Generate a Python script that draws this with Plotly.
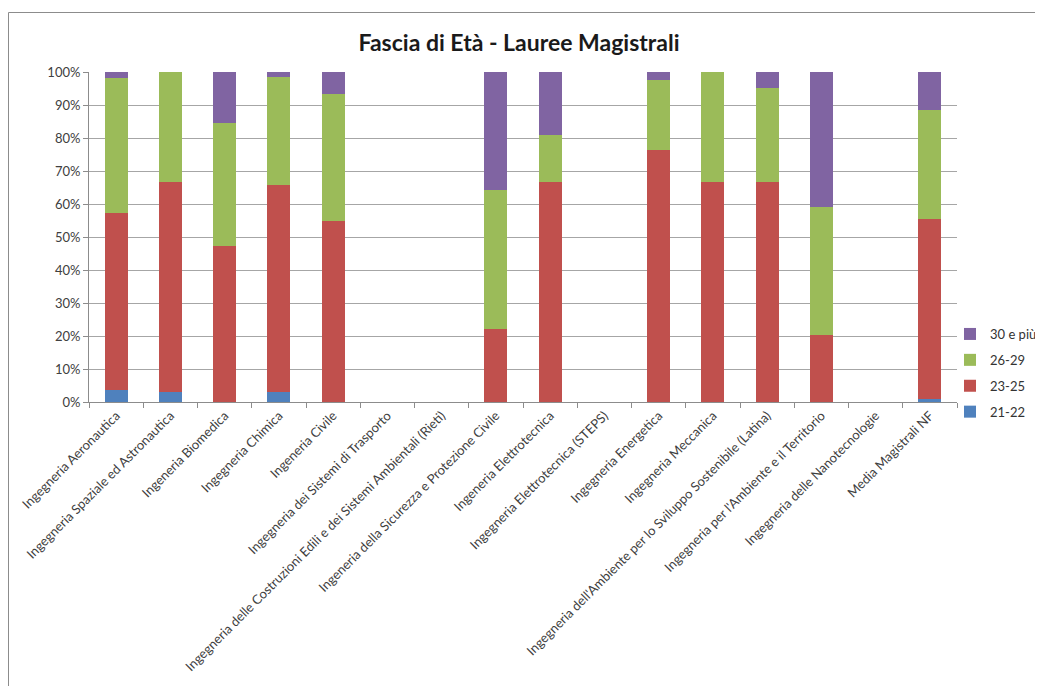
import plotly.graph_objects as go

categories = [
    "Ingegneria Aeronautica",
    "Ingegneria Spaziale ed Astronautica",
    "Ingeneria Biomedica",
    "Ingegneria Chimica",
    "Ingeneria Civile",
    "Ingegneria dei Sistemi di Trasporto",
    "Ingegneria delle Costruzioni Edili e dei Sistemi Ambientali (Rieti)",
    "Ingeneria della Sicurezza e Protezione Civile",
    "Ingeneria Elettrotecnica",
    "Ingegneria Elettrotecnica (STEPS)",
    "Ingegneria Energetica",
    "Ingegneria Meccanica",
    "Ingegneria dell'Ambiente per lo Sviluppo Sostenibile (Latina)",
    "Ingegneria per l'Ambiente e il Territorio",
    "Ingegneria delle Nanotecnologie",
    "Media Magistrali NF",
]

age_21_22 = [3.6, 2.9, 0, 3.1, 0, 0, 0, 0, 0, 0, 0, 0, 0, 0, 0, 0.8]
age_23_25 = [53.6, 63.8, 47.3, 62.6, 55.0, 0, 0, 22.0, 66.7, 0, 76.4, 66.7, 66.7, 20.4, 0, 54.8]
age_26_29 = [41.1, 33.3, 37.3, 32.9, 38.3, 0, 0, 42.1, 14.2, 0, 21.1, 33.3, 28.5, 38.8, 0, 32.8]
age_30_plus = [1.7, 0, 15.4, 1.4, 6.7, 0, 0, 35.9, 19.1, 0, 2.5, 0, 4.8, 40.8, 0, 11.6]

series_names = ["21-22", "23-25", "26-29", "30 e più"]
series_values = [age_21_22, age_23_25, age_26_29, age_30_plus]
series_colors = ["#4F81BD", "#C0504D", "#9BBB59", "#8064A2"]

fig = go.Figure()
n = len(series_names)
for i, (name, vals, col) in enumerate(zip(series_names, series_values, series_colors)):
    fig.add_trace(go.Bar(name=name, x=categories, y=vals, marker_color=col,
                         marker_line_width=0, legendgroup=name,
                         legendrank=1000 + (n - i) * 10))

# page body has an 8px margin, so the figure starts at (8, 8) in the window
OFF = 8
W, H = 1043 - OFF, 686 - OFF
L, T = 89 - OFF, 72 - OFF
R = W - (957 - OFF)
B = H - (402 - OFF)
pw, ph = W - L - R, H - T - B

def px_x(p):
    return (p - OFF - L) / pw

def px_y(p):
    return (H - B - (p - OFF)) / ph

fig.update_layout(
    width=W, height=H,
    margin=dict(l=L, r=R, t=T, b=B, autoexpand=False),
    paper_bgcolor="white", plot_bgcolor="white",
    barmode="stack", bargap=0.58,
    font=dict(family="Lato", size=13, color="#404040"),
    title=dict(text="<b>Fascia di Età - Lauree Magistrali</b>",
               x=(519 - OFF) / W, xanchor="center", y=1 - (43 - OFF) / H, yanchor="middle",
               font=dict(family="Lato", size=23, color="#1a1a1a")),
    legend=dict(traceorder="grouped", x=px_x(950), xanchor="left",
                y=px_y(373), yanchor="middle",
                font=dict(family="Lato", size=13, color="#333333"),
                itemwidth=30, tracegroupgap=6, bgcolor="rgba(0,0,0,0)"),
    xaxis=dict(tickangle=-45, showgrid=False, showline=True, linecolor="#8c8c8c",
               ticks="outside", tickson="boundaries", ticklen=5, tickcolor="#8c8c8c",
               tickfont=dict(family="Lato", size=13, color="#404040"),
               automargin=False),
    yaxis=dict(range=[0, 100], dtick=10, ticksuffix="%", showgrid=True,
               gridcolor="#a6a6a6", gridwidth=1, showline=True, linecolor="#8c8c8c",
               ticks="outside", ticklen=5, tickcolor="#8c8c8c",
               tickfont=dict(family="Lato", size=13, color="#404040"),
               zeroline=False, automargin=False),
    shapes=[dict(type="rect", xref="paper", yref="paper",
                 x0=px_x(8.5), x1=px_x(1080), y0=px_y(720), y1=px_y(12.5),
                 line=dict(color="#8c8c8c", width=1), fillcolor="rgba(0,0,0,0)",
                 layer="below")],
)

fig.write_html("out.html")
